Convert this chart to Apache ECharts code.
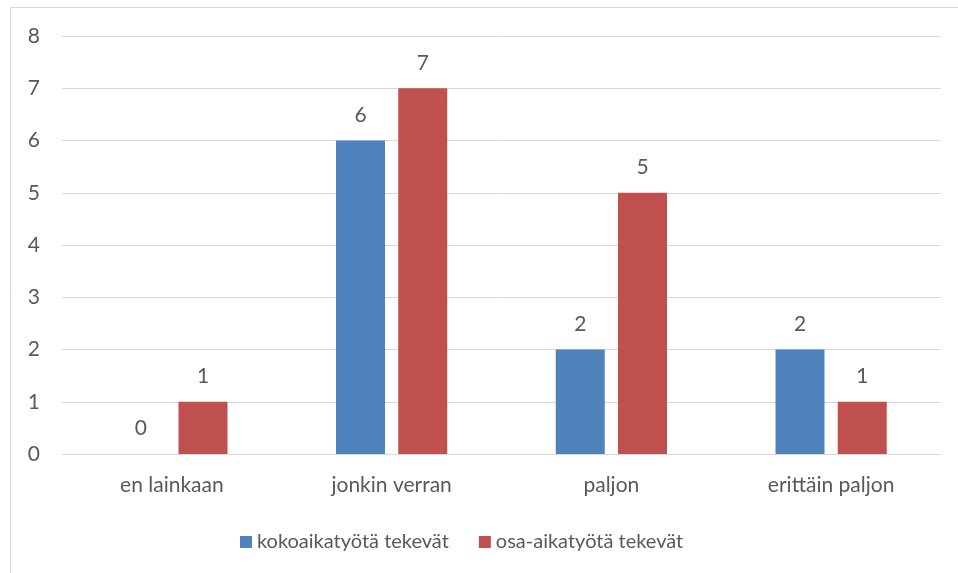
<!DOCTYPE html>
<html><head><meta charset="utf-8">
<script src="https://cdn.jsdelivr.net/npm/echarts@6/dist/echarts.min.js"></script>
<style>html,body{margin:0;padding:0;background:#fff}#c{width:958px;height:573px}</style>
</head><body><div id="c"></div>
<script>
const categories = ['en lainkaan', 'jonkin verran', 'paljon', 'erittäin paljon'];
const seriesNames = ['kokoaikatyötä tekevät', 'osa-aikatyötä tekevät'];
const fullTime = [0, 6, 2, 2];
const partTime = [1, 7, 5, 1];
const yTicks = [0, 1, 2, 3, 4, 5, 6, 7, 8];

const font = 'Lato, "Open Sans", sans-serif';
const txt = '#595959';
const fs = 21;
const chart = echarts.init(document.getElementById('c'));
chart.setOption({
  animation: false,
  textStyle: { fontFamily: font },
  graphic: [{ type: 'rect', shape: { x: 10.5, y: 7.5, width: 1000, height: 1000 }, style: { fill: 'none', stroke: '#d9d9d9', lineWidth: 1 }, silent: true }],
  grid: { left: 62, right: 17, top: 36, bottom: 119, containLabel: false },
  legend: {
    data: seriesNames, top: 527, left: 235, itemWidth: 12, itemHeight: 12, itemGap: 30,
    icon: 'rect', textStyle: { color: txt, fontSize: 20, fontFamily: font }
  },
  xAxis: {
    type: 'category', data: categories,
    axisLine: { lineStyle: { color: '#d9d9d9', width: 1 } }, axisTick: { show: false },
    axisLabel: { color: txt, fontSize: fs, margin: 21, fontFamily: font }
  },
  yAxis: {
    type: 'value', min: yTicks[0], max: yTicks[yTicks.length - 1], interval: 1,
    axisLine: { show: false }, axisTick: { show: false },
    axisLabel: { color: txt, fontSize: fs, margin: 22, fontFamily: font },
    splitLine: { lineStyle: { color: '#d9d9d9', width: 1 } }
  },
  series: [
    { name: seriesNames[0], type: 'bar', data: fullTime, barWidth: 49, barGap: '27%', itemStyle: { color: '#4f81bd' },
      label: { show: true, position: 'top', distance: 15, color: txt, fontSize: fs, fontFamily: font } },
    { name: seriesNames[1], type: 'bar', data: partTime, barWidth: 49, itemStyle: { color: '#c0504d' },
      label: { show: true, position: 'top', distance: 15, color: txt, fontSize: fs, fontFamily: font } }
  ]
});
</script></body></html>
